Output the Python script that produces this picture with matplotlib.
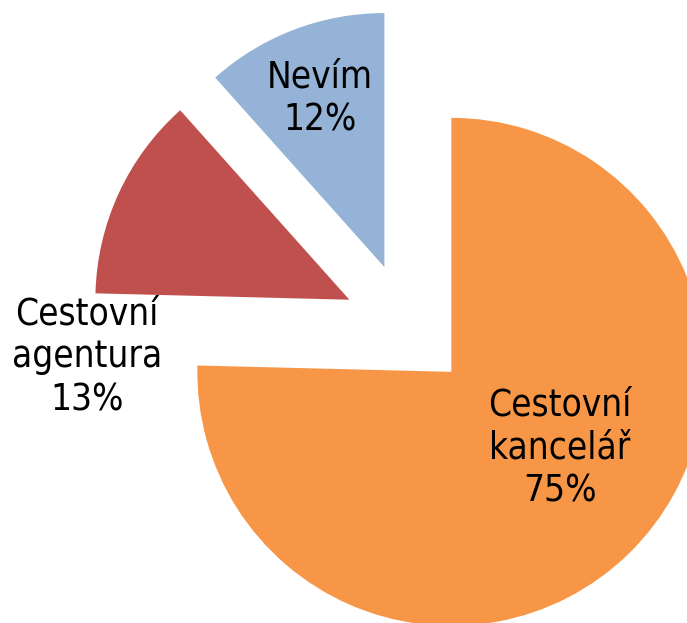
import matplotlib.pyplot as plt

labels = ['Cestovní\nkancelář', 'Cestovní\nagentura', 'Nevím']
shares = [75.4, 13.0, 11.6]
colors = ['#F79646', '#C0504D', '#95B3D7']

# label centres in data units (radius = 1)
label_pos = [(0.602, -0.479), (-1.260, -0.120), (-0.343, 0.897)]

fig = plt.figure(figsize=(6.87, 6.23), dpi=100)
ax = fig.add_axes([0, 0, 1, 1])

wedges, texts = ax.pie(shares, colors=colors, startangle=90, counterclock=False,
                       explode=[0.25] * len(shares), labels=labels,
                       wedgeprops={'linewidth': 0})

for t, lab, val, pos in zip(texts, labels, shares, label_pos):
    t.set_text(f'{lab}\n{round(val)}%')
    t.set_position(pos)
    t.set_ha('center')
    t.set_va('center')
    t.set_fontsize(26.5)
    t.set_fontfamily('DejaVu Sans')
    t.set_fontstretch('condensed')
    t.set_linespacing(1.2)

# pie centre sits at (407, 326.4) px, radius 254 px
ax.set_xlim(-407 / 254, (687 - 407) / 254)
ax.set_ylim(-(623 - 326.4) / 254, 326.4 / 254)
ax.set_aspect('equal')
ax.axis('off')

fig.savefig('out.png', dpi=100)
